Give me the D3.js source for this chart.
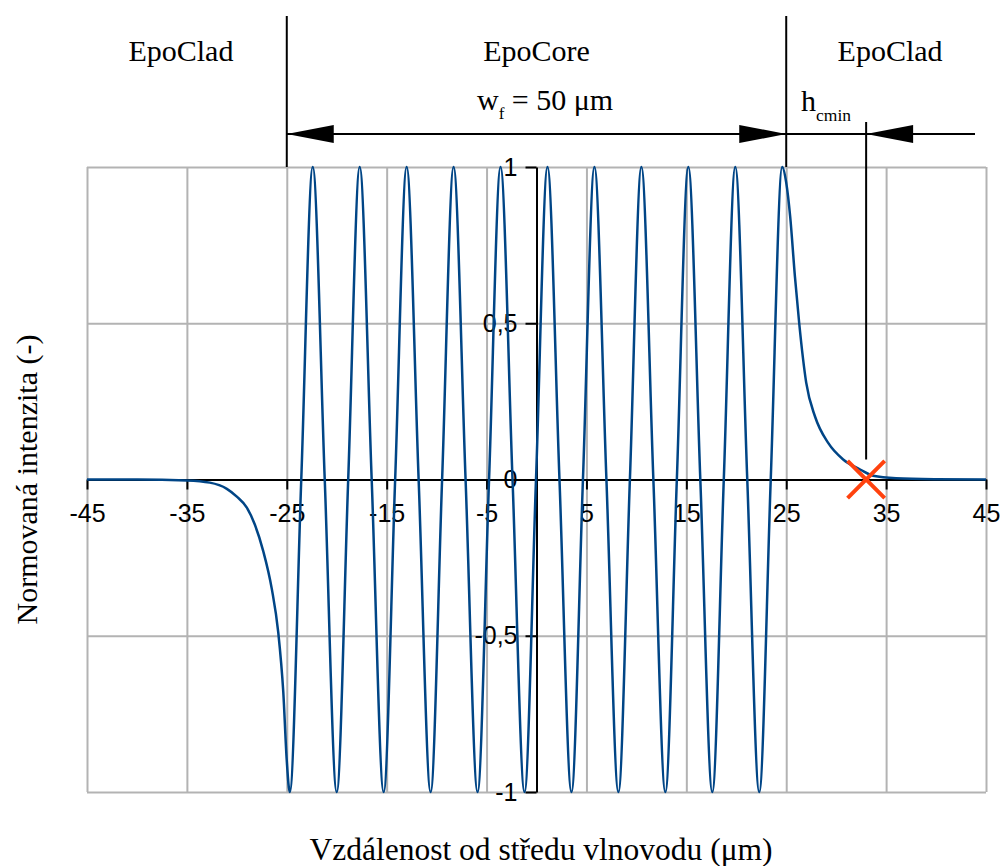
<!DOCTYPE html>
<html>
<head>
<meta charset="utf-8">
<title>Normovaná intenzita</title>
<script src="https://cdn.jsdelivr.net/npm/d3@7"></script>
<style>
  html, body {margin: 0; padding: 0; background: #fff;}
  svg {display: block;}
  .grid line {stroke: #b3b3b3; stroke-width: 2;}
  .grid path {display: none;}
  .axis path, .axis line {stroke: #000; stroke-width: 2;}
  .axis text {font-family: "Liberation Sans", Arial, sans-serif; font-size: 25px; fill: #000;}
  .note {font-family: "Liberation Serif", "Times New Roman", serif; font-size: 30px; fill: #000;}
  .dim {stroke: #000; stroke-width: 2; fill: none;}
</style>
</head>
<body>
<script>
// osa x a y
const xTicks = [-45, -35, -25, -15, -5, 5, 15, 25, 35, 45]
const yTicks = [-1, -0.5, 0, 0.5, 1]

// jadro: polohy maxim, minim a pruchodu nulou
const peakX = [-22.4, -17.7, -13.0, -8.3, -3.6, 1.1, 5.8, 10.5, 15.2, 19.9, 24.6]
const troughX = [-24.7, -20.0, -15.3, -10.6, -5.9, -1.2, 3.5, 8.2, 12.9, 17.6, 22.3]
const zeroX = [-23.55, -21.2, -18.85, -16.5, -14.15, -11.8, -9.45, -7.1, -4.75, -2.4,
  -0.05, 2.3, 4.65, 7.0, 9.35, 11.7, 14.05, 16.4, 18.75, 21.1, 23.45]

// evanescentni chvosty v plasti
const leftTail = [[-45, 0], [-40, 0], [-35, -0.003], [-32.7, -0.01], [-31.0, -0.03],
  [-30.0, -0.055], [-29.0, -0.09], [-28.2, -0.144], [-27.35, -0.23], [-26.5, -0.35],
  [-25.85, -0.49], [-25.35, -0.68], [-25.0, -0.9]]
const rightTail = [[25.0, 0.95], [25.4, 0.84], [25.87, 0.65], [26.3, 0.5], [27.0, 0.31],
  [27.9, 0.2], [29.2, 0.117], [30.7, 0.064], [32.4, 0.032], [33.7, 0.012],
  [36, 0.004], [40, 0.001], [45, 0]]

// hranice jadra a h_cmin
const coreEdges = [-25, 25]
const hcminX = 33
const regionLabels = [
  {text: 'EpoClad', x: -35.6},
  {text: 'EpoCore', x: 0},
  {text: 'EpoClad', x: 35.4}
]

const profile = []
  .concat(leftTail)
  .concat(peakX.map(x => [x, 1]))
  .concat(troughX.map(x => [x, -1]))
  .concat(zeroX.map(x => [x, 0]))
  .concat(rightTail)
  .sort((a, b) => a[0] - b[0])

const svgWidth = 1000
const svgHeight = 866
const margin = {top: 167, right: 14, bottom: 74, left: 87}
const width = svgWidth - margin.left - margin.right
const height = svgHeight - margin.top - margin.bottom

const svg = d3.select('body').append('svg')
  .attr('width', svgWidth).attr('height', svgHeight)
const g = svg.append('g')
  .attr('transform', `translate(${margin.left},${margin.top})`)

const x = d3.scaleLinear().domain([-45, 45]).range([0, width])
const y = d3.scaleLinear().domain([-1, 1]).range([height, 0])

// mrizka
g.append('g').attr('class', 'grid')
  .call(d3.axisBottom(x).tickValues(xTicks).tickSize(height).tickFormat(''))
g.append('g').attr('class', 'grid')
  .call(d3.axisLeft(y).tickValues([-1, -0.5, 0.5, 1]).tickSize(-width).tickFormat(''))

// osy
g.append('g').attr('class', 'axis')
  .attr('transform', `translate(0,${y(0)})`)
  .call(d3.axisBottom(x).tickValues(xTicks).tickSize(10).tickSizeOuter(0)
    .tickPadding(15).tickFormat(d => String(d)))
g.append('g').attr('class', 'axis')
  .attr('transform', `translate(${x(0)},0)`)
  .call(d3.axisLeft(y).tickValues(yTicks).tickSize(11).tickSizeOuter(0)
    .tickPadding(8).tickFormat(d => String(d).replace('.', ',')))

// prubeh intenzity
const line = d3.line()
  .x(d => x(d[0]))
  .y(d => y(d[1]))
  .curve(d3.curveMonotoneX)
g.append('path')
  .datum(profile)
  .attr('fill', 'none')
  .attr('stroke', '#004586')
  .attr('stroke-width', 2.5)
  .attr('d', line)

// znacka h_cmin
g.append('path')
  .attr('d', d3.symbol(d3.symbolX, 900)())
  .attr('transform', `translate(${x(hcminX)},${y(0)})`)
  .attr('stroke', '#ff420e')
  .attr('stroke-width', 4)
  .attr('fill', 'none')

// koty nad grafem
const dimY = 134 - margin.top
const ann = g.append('g')
coreEdges.forEach(e => {
  ann.append('line').attr('class', 'dim')
    .attr('x1', x(e)).attr('x2', x(e))
    .attr('y1', 16 - margin.top).attr('y2', 0)
})
ann.append('line').attr('class', 'dim')
  .attr('x1', x(hcminX)).attr('x2', x(hcminX))
  .attr('y1', 122 - margin.top).attr('y2', y(0) - 20)
ann.append('line').attr('class', 'dim')
  .attr('x1', x(coreEdges[0])).attr('x2', 975 - margin.left)
  .attr('y1', dimY).attr('y2', dimY)

const arrow = (tip, dir) => {
  const len = 47, half = 9
  return `M${tip},${dimY}L${tip + dir * len},${dimY - half}L${tip + dir * len},${dimY + half}Z`
}
ann.append('path').attr('d', arrow(x(coreEdges[0]), 1))
ann.append('path').attr('d', arrow(x(coreEdges[1]), -1))
ann.append('path').attr('d', arrow(x(hcminX), 1))

regionLabels.forEach(r => {
  ann.append('text').attr('class', 'note')
    .attr('x', x(r.x)).attr('y', 61 - margin.top)
    .attr('text-anchor', 'middle')
    .text(r.text)
})

const wf = ann.append('text').attr('class', 'note')
  .attr('x', 477 - margin.left).attr('y', 110 - margin.top)
wf.append('tspan').text('w')
wf.append('tspan').attr('font-size', 17).attr('dy', 9).text('f')
wf.append('tspan').attr('dy', -9).text('\u00a0= 50 μm')

const hc = ann.append('text').attr('class', 'note')
  .attr('x', 801 - margin.left).attr('y', 111 - margin.top)
hc.append('tspan').text('h')
hc.append('tspan').attr('font-size', 17.5).attr('dy', 10).text('cmin')

// popisky os
svg.append('text').attr('class', 'note')
  .attr('transform', `translate(37,${margin.top + y(0)}) rotate(-90)`)
  .attr('text-anchor', 'middle')
  .text('Normovaná intenzita (-)')
svg.append('text').attr('class', 'note')
  .attr('x', 541).attr('y', 860)
  .attr('text-anchor', 'middle')
  .style('font-size', '31.5px')
  .text('Vzdálenost od středu vlnovodu (μm)')
</script>
</body>
</html>
